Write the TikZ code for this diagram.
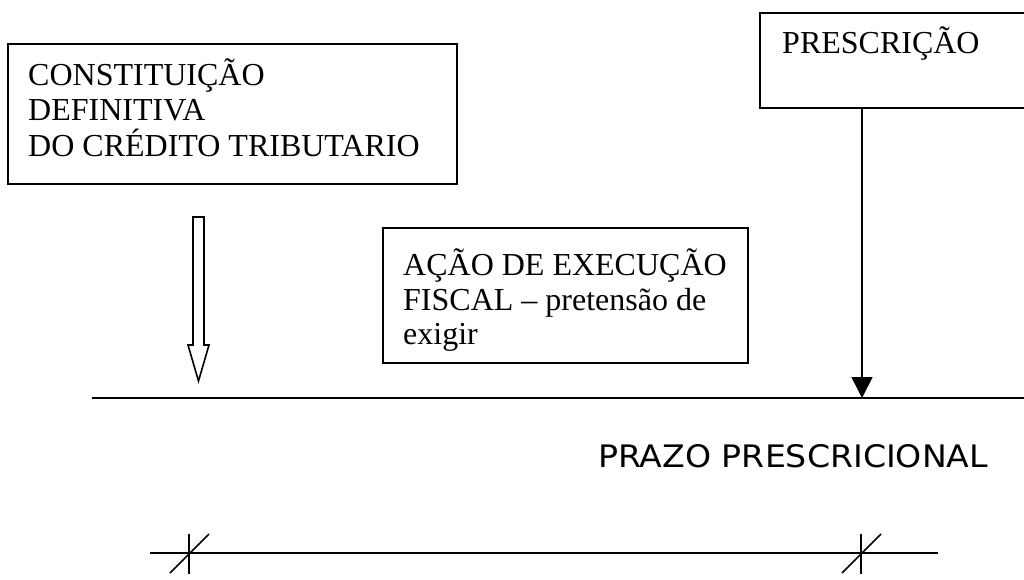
\documentclass[tikz,border=0pt]{standalone}
\usepackage{fontspec}
\setmainfont{Liberation Serif}
\newfontfamily\sansf[FakeStretch=1.07]{DejaVu Sans}
\usetikzlibrary{arrows.meta}
\begin{document}
\begin{tikzpicture}[x=1pt,y=-1pt,
  box/.style={draw,line width=1.6pt,anchor=north west,inner sep=0pt},
  txt/.style={anchor=base west,inner sep=0pt,font=\fontsize{32}{36}\selectfont},
  sanstxt/.style={anchor=base west,inner sep=0pt,font=\sansf\fontsize{31}{34}\selectfont},
  ln/.style={line width=1.6pt}]
\useasboundingbox (0,0) rectangle (1024,579);
\clip (0,0) rectangle (1024,579);
% boxes
\node[box,minimum width=449pt,minimum height=140pt] (const) at (7,43) {};
\node[box,minimum width=290pt,minimum height=95pt] (presc) at (759,12) {};
\node[box,minimum width=365pt,minimum height=135pt] (acao) at (382,227) {};
% texts
\node[txt] (c1) at (28,85) {CONSTITUIÇÃO};
\node[txt] (c2) at (28,120) {DEFINITIVA};
\node[txt] (c3) at (28,156) {DO CRÉDITO TRIBUTARIO};
\node[txt] (p1) at (782,53) {PRESCRIÇÃO};
\node[txt] (a1) at (403,275) {AÇÃO DE EXECUÇÃO};
\node[txt] (a2) at (403,310) {FISCAL – pretensão de};
\node[txt] (a3) at (403,344) {exigir};
\node[sanstxt] (prazo) at (598,467) {PRAZO PRESCRICIONAL};
% main time line
\coordinate (L0) at (92,398);
\coordinate (L1) at (1030,398);
\draw[ln] (L0) -- (L1);
\coordinate (tipP) at (862,398);
\draw[ln,-{Triangle[length=21pt,width=21pt]}] (presc.south -| tipP) -- (tipP);
% hollow arrow
\draw[ln,line join=miter] (193,217) -- (204,217) -- (204,345) -- (209,345) -- (198.5,381)
  -- (188,345) -- (193,345) -- cycle;
% bottom interval
\coordinate (B0) at (150,553);
\coordinate (B1) at (938,553);
\draw[ln] (B0) -- (B1);
\coordinate (T0) at (189,553);
\coordinate (T1) at (861,553);
\foreach \t in {T0,T1}{
  \draw[ln] ([yshift=19pt]\t) -- ([yshift=-21pt]\t);
  \draw[ln] ([xshift=-19pt,yshift=-20pt]\t) -- ([xshift=20pt,yshift=19pt]\t);
}
\end{tikzpicture}
\end{document}
